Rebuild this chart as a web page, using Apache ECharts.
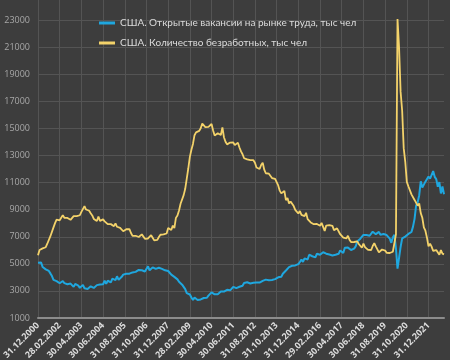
<!DOCTYPE html>
<html><head><meta charset="utf-8">
<script src="https://cdn.jsdelivr.net/npm/echarts@6/dist/echarts.min.js"></script>
<style>html,body{margin:0;padding:0;background:#3d3d3d;}#c{width:450px;height:360px;}</style>
</head><body><div id="c"></div>
<script>
// Monthly, Dec 2000 .. Oct 2022
const seriesNames = ['США. Открытые вакансии на рынке труда, тыс чел', 'США. Количество безработных, тыс чел'];
const jobOpenings = [
5088,
5234,5097,4762,4615,4594,4525,4477,4294,4094,3814,3734,3726,
3711,3567,3505,3734,3576,3545,3497,3421,3541,3565,3299,3511,
3541,3384,3232,3192,3447,3198,3290,3147,3073,3342,3314,3218,
3324,3427,3463,3468,3582,3493,3762,3520,3750,3794,3632,3906,
3870,3803,4082,3813,3954,4042,4204,4079,4273,4305,4272,4290,
4368,4393,4406,4305,4553,4529,4523,4584,4437,4543,4819,4520,
4660,4739,4691,4626,4658,4713,4639,4628,4755,4521,4561,4470,
4394,4203,4206,4037,3983,3852,3678,3589,3462,3366,3128,2833,
2819,2736,2514,2339,2508,2384,2328,2441,2369,2374,2476,2545,
2497,2655,2666,2890,2777,2752,2816,2754,2838,2955,2939,2949,
2873,3078,3147,3042,3159,3303,3301,3210,3273,3304,3323,3382,
3584,3524,3640,3649,3552,3696,3599,3556,3620,3565,3614,3759,
3740,3843,3833,3834,3793,3824,3809,3856,3870,3915,4004,3945,
4053,4267,4216,4508,4617,4760,4752,4856,4859,4883,5017,4980,
5138,5321,5145,5403,5395,5324,5674,5554,5559,5589,5479,5747,
5719,5670,5798,5853,5789,5748,5893,5683,5721,5617,5604,5667,
5765,5741,5993,5994,5796,6185,6096,6200,6185,6024,6067,6119,
6285,6648,6711,6855,6919,7137,7076,7126,7227,7075,6969,7373,
7246,7191,7229,7357,7150,7202,7198,7124,7125,7096,6865,6552,
6963,7136,6129,4649,5443,6256,6876,6997,7010,7132,7208,7269,
7352,7746,8321,9302,9542,10070,11098,10629,10639,11069,10922,11448,
11283,11344,11855,11424,11254,10690,11040,10198,10717,10134
];
const unemployed = [
5634,
6023,6089,6141,6271,6226,6484,6583,7042,7142,7694,8003,8258,
8182,8215,8304,8599,8399,8393,8390,8304,8251,8307,8520,8640,
8520,8618,8588,8842,8957,9266,9011,8896,8921,8732,8576,8317,
8370,8167,8491,8170,8212,8286,8136,7990,7927,8061,7932,7934,
7784,7980,7737,7672,7651,7524,7406,7345,7553,7453,7566,7279,
7064,7184,7072,7120,6980,7001,7175,7091,6847,6727,6872,6762,
7116,6927,6731,6850,6766,6979,7149,7067,7170,7237,7240,7645,
7685,7497,7822,7637,8395,8575,8937,9438,9494,10074,10538,11286,
12058,12898,13426,13853,14499,14707,14601,14814,15009,15352,15219,15098,
15046,15113,15202,15325,14849,14474,14512,14648,14579,14516,15081,14348,
14013,13820,13737,13957,13855,13962,13763,13818,13948,13594,13302,13093,
12797,12813,12713,12646,12660,12692,12656,12471,12115,12124,12005,12298,
12471,11950,11689,11760,11654,11751,11335,11279,11270,11136,10787,10404,
10202,10349,10380,9702,9859,9460,9608,9599,9262,8990,9090,8717,
8903,8610,8504,8526,8771,8299,8285,8057,7915,7927,7995,7940,
7833,7815,8020,7955,7431,7827,7759,7864,7944,7812,7490,7533,
7617,7489,7187,7054,6934,7048,6875,7075,6784,6605,6605,6612,
6635,6656,6466,6366,6187,6498,6236,6144,6027,6150,6020,6319,
6527,6290,6204,5846,5965,6059,6098,5977,5810,5921,5800,5753,
5892,5787,7185,23078,20985,17697,16308,13542,12535,11049,10728,10736,
10130,10007,9718,9827,9295,9456,8742,8404,7694,7448,6930,6291,
6487,6270,5952,5946,6018,5914,5670,6014,5753,5700
];
const monthEnds = ['31.01','28.02','31.03','30.04','31.05','30.06','31.07','31.08','30.09','31.10','30.11','31.12'];
const categories = [];
for (let i = 0; i < jobOpenings.length; i++) {
  const m = (11 + i) % 12, y = 2000 + Math.floor((11 + i) / 12);
  let d = monthEnds[m];
  if (m === 1 && y % 4 === 0) d = '29.02';
  categories.push(d + '.' + y);
}
const chart = echarts.init(document.getElementById('c'));
const font = '"Open Sans", "Noto Sans", sans-serif';
chart.setOption({
  backgroundColor: '#3d3d3d',
  animation: false,
  textStyle: { fontFamily: font },
  legend: {
    orient: 'vertical', left: 94, top: 13, itemGap: 10,
    itemWidth: 16, itemHeight: 3, icon: 'rect',
    textStyle: { color: '#dcdcdc', fontSize: 10, fontFamily: 'Lato, sans-serif' },
    data: seriesNames
  },
  grid: { left: 38, right: 6, top: -7, bottom: 42, containLabel: false, outerBoundsMode: 'none' },
  xAxis: {
    type: 'category', data: categories, boundaryGap: false,
    axisLine: { lineStyle: { color: '#8c8c8c', width: 2 } },
    axisTick: { show: false },
    axisLabel: { interval: 13, rotate: 45, color: '#dcdcdc', fontSize: 9, fontWeight: 'bold', margin: 6, fontFamily: font },
    splitLine: { show: true, interval: 13, lineStyle: { color: '#545454', width: 1 } }
  },
  yAxis: {
    type: 'value', min: 1000, max: 25000, interval: 2000,
    axisLine: { show: false }, axisTick: { show: false },
    axisLabel: { color: '#a8a8a8', fontSize: 9, margin: 8, fontFamily: font,
      formatter: v => (v >= 25000 ? '' : String(v)) },
    splitLine: { lineStyle: { color: '#545454', width: 1 } }
  },
  series: [
    { name: seriesNames[0], type: 'line', data: jobOpenings, showSymbol: false, symbol: 'none',
      itemStyle: { color: '#1fa7df' }, lineStyle: { color: '#1fa7df', width: 2 } },
    { name: seriesNames[1], type: 'line', data: unemployed, showSymbol: false, symbol: 'none',
      itemStyle: { color: '#f3d26a' }, lineStyle: { color: '#f3d26a', width: 1.8 } }
  ]
});
</script></body></html>
